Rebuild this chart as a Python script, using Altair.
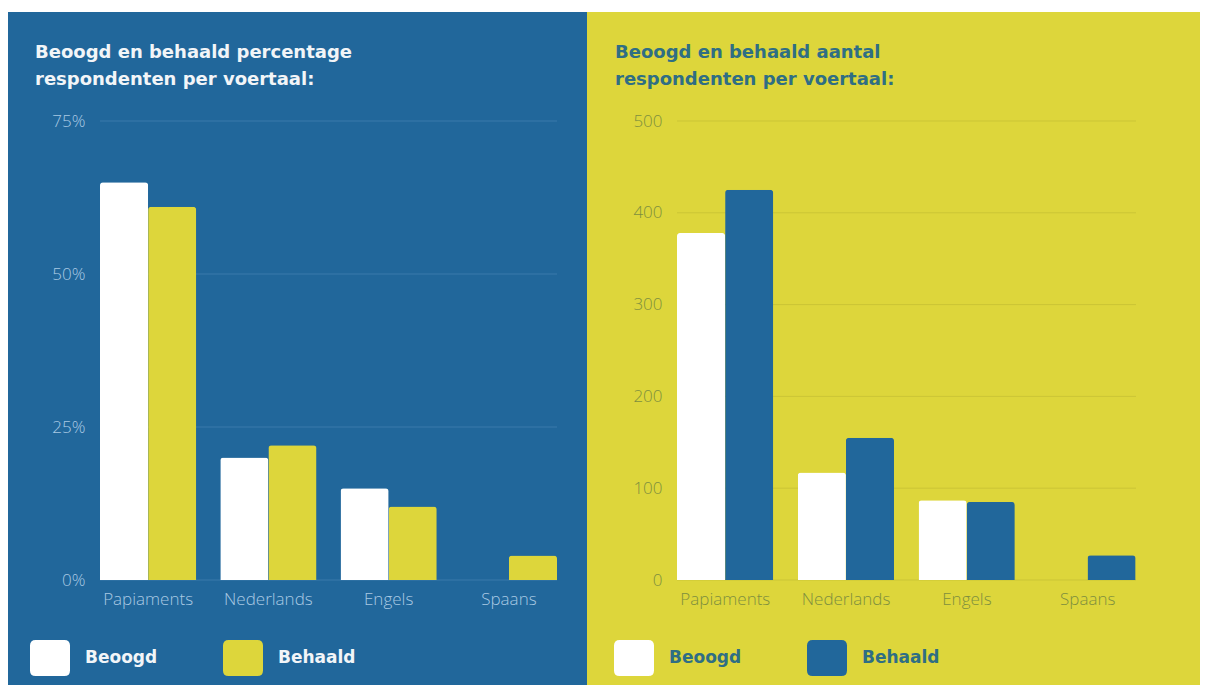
import altair as alt
import pandas as pd

# ---- data ----
languages = ["Papiaments", "Nederlands", "Engels", "Spaans"]
series = ["Beoogd", "Behaald"]

pct_beoogd = [0.65, 0.20, 0.15, 0.00]
pct_behaald = [0.61, 0.22, 0.12, 0.04]
pct_ticks = [0, 0.25, 0.50, 0.75]

n_beoogd = [378, 117, 87, 0]
n_behaald = [425, 155, 85, 27]
n_ticks = [0, 100, 200, 300, 400, 500]

title_left = ["Beoogd en behaald percentage", "respondenten per voertaal:"]
title_right = ["Beoogd en behaald aantal", "respondenten per voertaal:"]

BLUE = "#21679b"
YELLOW = "#ddd63b"
WHITE = "#ffffff"

H = 459
ROUNDED = ("M-1,-0.62 Q-1,-0.9 -0.72,-0.9 L0.72,-0.9 Q1,-0.9 1,-0.62 "
           "L1,0.62 Q1,0.9 0.72,0.9 L-0.72,0.9 Q-1,0.9 -1,0.62 Z")


def long_df(a, b):
    rows = []
    for i, lang in enumerate(languages):
        rows.append({"taal": lang, "reeks": series[0], "waarde": a[i]})
        rows.append({"taal": lang, "reeks": series[1], "waarde": b[i]})
    return pd.DataFrame(rows)


def panel(df, ticks, y_format, w, left_ext, right_ext, bg, title_lines, title_x,
          title_color, label_color, grid_color, bar_colors, legend_x):
    one = alt.Data(values=[{"k": 0}])
    background = alt.Chart(one).mark_rect(color=bg).encode(
        x=alt.value(-left_ext), x2=alt.value(w + right_ext),
        y=alt.value(-109), y2=alt.value(H + 105),
    )
    grid = alt.Chart(pd.DataFrame({"waarde": ticks})).mark_rule(
        color=grid_color, strokeWidth=1
    ).encode(
        y=alt.Y("waarde:Q"),
        x=alt.value(0), x2=alt.value(w),
    )
    bars = alt.Chart(df).mark_bar(
        cornerRadiusTopLeft=3, cornerRadiusTopRight=3
    ).encode(
        x=alt.X("taal:N", sort=languages,
                scale=alt.Scale(paddingInner=0.2, paddingOuter=0),
                axis=alt.Axis(title=None, labelAngle=0, domain=False, ticks=False,
                              grid=False, labelFont="Open Sans", labelFontWeight=300,
                              labelFontSize=17, labelColor=label_color,
                              labelPadding=11, zindex=1)),
        xOffset=alt.XOffset("reeks:N", sort=series,
                            scale=alt.Scale(paddingInner=0, paddingOuter=0)),
        y=alt.Y("waarde:Q",
                scale=alt.Scale(domain=[ticks[0], ticks[-1]], nice=False),
                axis=alt.Axis(title=None, values=ticks, format=y_format,
                              domain=False, ticks=False, grid=False,
                              labelFont="Open Sans", labelFontWeight=300,
                              labelFontSize=17, labelColor=label_color,
                              labelPadding=15, zindex=1)),
        color=alt.Color("reeks:N", sort=series,
                        scale=alt.Scale(domain=series, range=bar_colors),
                        legend=alt.Legend(title=None, orient="none",
                                          legendX=legend_x, legendY=517,
                                          direction="horizontal",
                                          symbolType=ROUNDED, symbolSize=1600,
                                          symbolStrokeWidth=0, symbolOpacity=1,
                                          labelFont="DejaVu Sans",
                                          labelFontWeight="bold",
                                          labelFontSize=17,
                                          labelColor=title_color,
                                          labelOffset=15, columnPadding=65,
                                          padding=0)),
    )
    title = alt.Chart(one).mark_text(
        text=title_lines, align="left", baseline="alphabetic",
        font="DejaVu Sans", fontWeight="bold", fontSize=18, lineHeight=27,
        color=title_color,
    ).encode(x=alt.value(title_x), y=alt.value(-63))
    return alt.layer(background, grid, bars, title).properties(width=w, height=H)


left = panel(long_df(pct_beoogd, pct_behaald), pct_ticks, ".0%", 457, 92, 30,
             BLUE, title_left, -65, "#f2f5f8", "#a9c9e3", "#3a7bab",
             [WHITE, YELLOW], -70)
right = panel(long_df(n_beoogd, n_behaald), n_ticks, "d", 459, 90, 64,
              YELLOW, title_right, -62, "#2f6e84", "#7d8f3e", "#cbc536",
              [WHITE, BLUE], -63)

chart = alt.hconcat(left, right, spacing=0).resolve_scale(
    x="independent", y="independent", color="independent"
).resolve_legend(color="independent").properties(
    padding={"top": 4, "left": 0, "right": 0, "bottom": 0},
    background="white",
).configure_view(stroke=None)

chart.save("out.html", embed_options={"renderer": "svg", "actions": False})
